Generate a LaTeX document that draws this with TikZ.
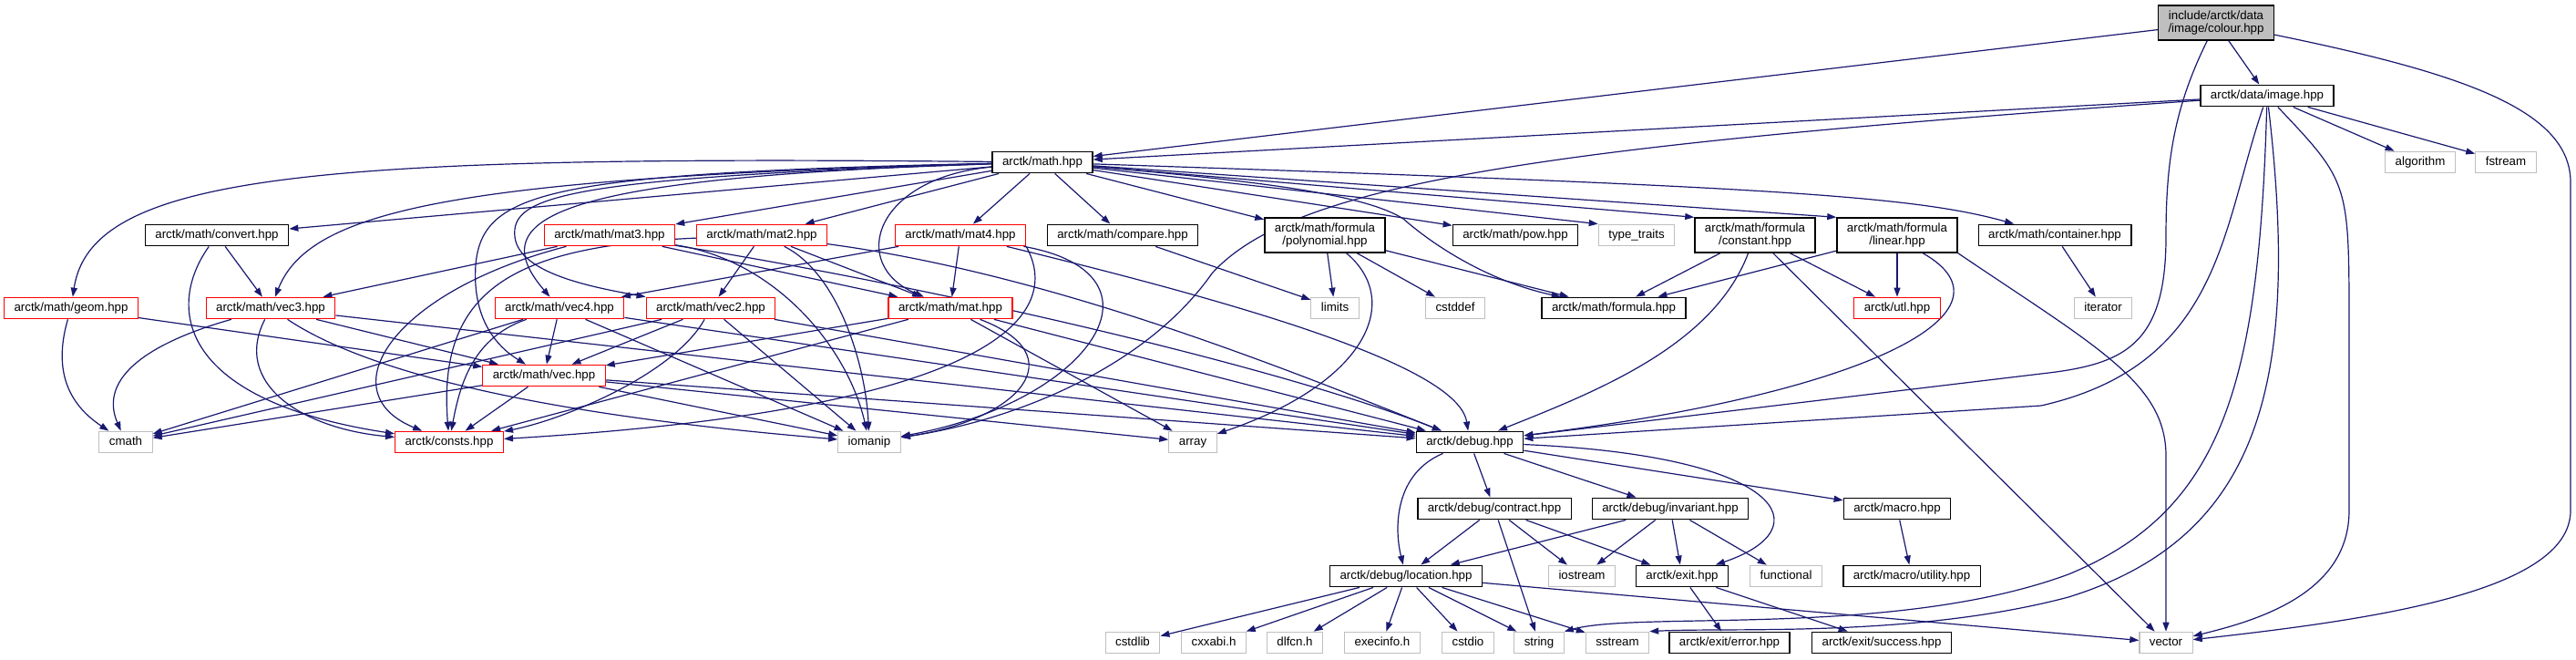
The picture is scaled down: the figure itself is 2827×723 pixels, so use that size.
\documentclass[tikz,border=0pt]{standalone}
\usepackage{fontspec}
\setmainfont{Liberation Sans}
\usetikzlibrary{arrows.meta}
\definecolor{incblue}{HTML}{191970}
\definecolor{sysgrey}{HTML}{BFBFBF}
\pgfdeclarelayer{bg}
\pgfsetlayers{bg,main}

\begin{document}
\begin{tikzpicture}[x=1pt,y=-1pt,
    every node/.style={draw=black,line width=1.4pt,fill=white,inner xsep=11pt,
      inner ysep=0pt,minimum height=23.5pt,text height=10pt,text depth=3pt,
      font=\fontsize{13.3}{13.3}\selectfont},
    trunc/.style={draw=red,line width=1.2pt},
    sys/.style={draw=sysgrey,line width=1.2pt},
    twoline/.style={align=center,text height=,text depth=,minimum height=38pt},
    root/.style={twoline,fill=sysgrey},
    inc/.style={draw=incblue,line width=1.2pt,-{Triangle[length=10pt,width=7pt]}}]
  \useasboundingbox (0,0) rectangle (2827,723);

  \node[root] (colour) at (2432,25) {include/arctk/data\\/image/colour.hpp};
  \node (image) at (2488,105) {arctk/data/image.hpp};
  \node (math) at (1144,178) {arctk/math.hpp};
  \node[sys] (algorithm) at (2656,178) {algorithm};
  \node[sys] (fstream) at (2750,178) {fstream};

  \node (convert) at (238,258) {arctk/math/convert.hpp};
  \node[trunc] (mat3) at (669,258) {arctk/math/mat3.hpp};
  \node[trunc] (mat2) at (836,258) {arctk/math/mat2.hpp};
  \node[trunc] (mat4) at (1054,258) {arctk/math/mat4.hpp};
  \node (compare) at (1232,258) {arctk/math/compare.hpp};
  \node[twoline] (polynomial) at (1454,258) {arctk/math/formula\\/polynomial.hpp};
  \node (pow) at (1663,258) {arctk/math/pow.hpp};
  \node[sys] (typetraits) at (1796,258) {type\_traits};
  \node[twoline] (constant) at (1926,258) {arctk/math/formula\\/constant.hpp};
  \node[twoline] (linear) at (2082,258) {arctk/math/formula\\/linear.hpp};
  \node (container) at (2255,258) {arctk/math/container.hpp};

  \node[trunc] (geom) at (78,338) {arctk/math/geom.hpp};
  \node[trunc] (vec3) at (297,338) {arctk/math/vec3.hpp};
  \node[trunc] (vec4) at (614,338) {arctk/math/vec4.hpp};
  \node[trunc] (vec2) at (780,338) {arctk/math/vec2.hpp};
  \node[trunc] (mat) at (1043,338) {arctk/math/mat.hpp};
  \node[sys] (limits) at (1465,338) {limits};
  \node[sys] (cstddef) at (1597,338) {cstddef};
  \node (formula) at (1771,338) {arctk/math/formula.hpp};
  \node[trunc] (utl) at (2082,338) {arctk/utl.hpp};
  \node[sys] (iterator) at (2308,338) {iterator};

  \node[trunc] (vec) at (597,412) {arctk/math/vec.hpp};

  \node[sys] (cmath) at (138,485) {cmath};
  \node[trunc] (consts) at (493,485) {arctk/consts.hpp};
  \node[sys] (iomanip) at (954,485) {iomanip};
  \node[sys] (array) at (1309,485) {array};
  \node (debug) at (1613,485) {arctk/debug.hpp};

  \node (contract) at (1640,558) {arctk/debug/contract.hpp};
  \node (invariant) at (1833,558) {arctk/debug/invariant.hpp};
  \node (macro) at (2082,558) {arctk/macro.hpp};

  \node (location) at (1543,632) {arctk/debug/location.hpp};
  \node[sys] (iostream) at (1736,632) {iostream};
  \node (exit) at (1846,632) {arctk/exit.hpp};
  \node[sys] (functional) at (1960,632) {functional};
  \node (utility) at (2098,632) {arctk/macro/utility.hpp};

  \node[sys] (cstdlib) at (1243,705) {cstdlib};
  \node[sys] (cxxabi) at (1332,705) {cxxabi.h};
  \node[sys] (dlfcn) at (1421,705) {dlfcn.h};
  \node[sys] (execinfo) at (1517,705) {execinfo.h};
  \node[sys] (cstdio) at (1611,705) {cstdio};
  \node[sys] (string) at (1689,705) {string};
  \node[sys] (sstream) at (1775,705) {sstream};
  \node (error) at (1898,705) {arctk/exit/error.hpp};
  \node (success) at (2065,705) {arctk/exit/success.hpp};
  \node[sys] (vector) at (2377,705) {vector};

  \begin{pgfonlayer}{bg}
  \fill[white] (0,0) rectangle (2827,723);

  \draw[inc] (colour)--(math); \draw[inc] (colour)--(image);
  \draw[inc] (colour) .. controls (2385,120) and (2377,180) .. (2377,260)
    .. controls (2377,380) and (2330,400) .. (2240,410) -- (debug);
  \draw[inc] (colour) .. controls (2700,80) and (2821,120) .. (2821,200) -- (2821,560)
    .. controls (2821,650) and (2600,680) .. (vector);

  \draw[inc] (image)--(math); \draw[inc] (image)--(algorithm);
  \draw[inc] (image)--(fstream);
  \draw[inc] (image) .. controls (1700,160) and (1420,200) .. (1330,300)
    .. controls (1260,400) and (1120,460) .. (iomanip);
  \draw[inc] (image) .. controls (2438,250) and (2438,400) .. (2240,445) -- (debug);
  \draw[inc] (image) .. controls (2479,420) and (2440,560) .. (2270,630)
    .. controls (2080,700) and (1800,670) .. (string.north east);
  \draw[inc] (image) .. controls (2525,420) and (2480,590) .. (2270,655)
    .. controls (2100,700) and (1900,688) .. (sstream.north east);
  \draw[inc] (image) .. controls (2578,200) .. (2578,360) -- (2578,560)
    .. controls (2578,650) and (2480,680) .. (vector);

  \draw[inc] (math)--(convert); \draw[inc] (math)--(mat3);
  \draw[inc] (math)--(mat2); \draw[inc] (math)--(mat4);
  \draw[inc] (math)--(compare); \draw[inc] (math)--(polynomial);
  \draw[inc] (math)--(pow); \draw[inc] (math)--(typetraits.north west);
  \draw[inc] (math)--(constant.north west); \draw[inc] (math)--(linear.north west);
  \draw[inc] (math) .. controls (1950,205) and (2100,215) .. (container);
  \draw[inc] (math) .. controls (350,170) and (100,190) .. (geom);
  \draw[inc] (math) .. controls (500,195) and (340,230) .. (vec3);
  \draw[inc] (math) .. controls (600,195) and (530,240) .. (vec4);
  \draw[inc] (math) .. controls (620,195) and (560,215) .. (565,260)
    .. controls (570,300) and (650,315) .. (vec2.north west);
  \draw[inc] (math) .. controls (600,190) and (530,210) .. (522,290)
    .. controls (518,350) and (545,380) .. (vec);
  \draw[inc] (math) .. controls (960,195) and (930,290) .. (mat);
  \draw[inc] (math) .. controls (1400,200) and (1500,215) .. (1540,240)
    .. controls (1580,275) and (1640,310) .. (formula);

  \draw[inc] (convert)--(vec3);
  \draw[inc] (convert) .. controls (180,340) and (200,440) .. (consts);
  \draw[inc] (geom) .. controls (60,400) and (70,440) .. (cmath);
  \draw[inc] (geom)--(vec);

  \draw[inc] (mat4)--(vec4); \draw[inc] (mat4)--(mat);
  \draw[inc] (mat4.south east) .. controls (1170,350) and (1080,450) .. (consts);
  \draw[inc] (mat4) .. controls (1290,300) and (1200,440) .. (iomanip);
  \draw[inc] (mat4) .. controls (1350,330) and (1600,400) .. (debug);
  \draw[inc] (mat3)--(vec3); \draw[inc] (mat3)--(mat);
  \draw[inc] (mat3) .. controls (430,320) and (360,430) .. (consts);
  \draw[inc] (mat3) .. controls (850,285) and (930,380) .. (iomanip);
  \draw[inc] (mat3) .. controls (1000,310) and (1400,400) .. (debug);
  \draw[inc] (mat2)--(vec2); \draw[inc] (mat2)--(mat);
  \draw[inc] (mat2) .. controls (560,270) and (480,320) .. (consts);
  \draw[inc] (mat2) .. controls (920,300) and (950,400) .. (iomanip);
  \draw[inc] (mat2) .. controls (1150,300) and (1400,400) .. (debug);

  \draw[inc] (vec3)--(vec); \draw[inc] (vec3)--(debug);
  \draw[inc] (vec3) .. controls (150,380) and (110,420) .. (cmath);
  \draw[inc] (vec3) .. controls (255,420) and (330,470) .. (consts);
  \draw[inc] (vec3) .. controls (450,440) and (780,470) .. (iomanip);
  \draw[inc] (vec4)--(vec); \draw[inc] (vec4)--(cmath);
  \draw[inc] (vec4)--(iomanip); \draw[inc] (vec4)--(debug);
  \draw[inc] (vec4) .. controls (520,370) and (505,420) .. (consts);
  \draw[inc] (vec2)--(vec); \draw[inc] (vec2)--(cmath);
  \draw[inc] (vec2)--(iomanip); \draw[inc] (vec2)--(debug);
  \draw[inc] (vec2) .. controls (740,410) and (620,460) .. (consts);
  \draw[inc] (mat)--(vec); \draw[inc] (mat)--(consts);
  \draw[inc] (mat)--(array); \draw[inc] (mat)--(debug);
  \draw[inc] (mat) .. controls (1180,390) and (1120,460) .. (iomanip);
  \draw[inc] (vec)--(cmath); \draw[inc] (vec)--(consts);
  \draw[inc] (vec)--(iomanip); \draw[inc] (vec)--(array);
  \draw[inc] (vec)--(debug);

  \draw[inc] (compare)--(limits);
  \draw[inc] (polynomial)--(limits); \draw[inc] (polynomial)--(cstddef);
  \draw[inc] (polynomial)--(formula);
  \draw[inc] (polynomial) .. controls (1540,330) and (1500,420) .. (array);
  \draw[inc] (constant)--(formula); \draw[inc] (constant)--(utl);
  \draw[inc] (constant)--(vector);
  \draw[inc] (constant) .. controls (1880,380) and (1750,430) .. (debug);
  \draw[inc] (linear)--(formula); \draw[inc] (linear)--(utl);
  \draw[inc] (linear.-35) .. controls (2220,340) and (2060,430) .. (debug);
  \draw[inc] (linear.south east) .. controls (2300,380) and (2377,420) .. (2377,500) -- (vector);
  \draw[inc] (container)--(iterator);

  \draw[inc] (debug)--(contract); \draw[inc] (debug)--(invariant);
  \draw[inc] (debug)--(macro);
  \draw[inc] (debug) .. controls (1530,520) and (1530,580) .. (location);
  \draw[inc] (debug) .. controls (1960,500) and (2000,580) .. (exit);
  \draw[inc] (contract)--(location); \draw[inc] (contract)--(string);
  \draw[inc] (contract)--(iostream); \draw[inc] (contract)--(exit);
  \draw[inc] (invariant)--(location); \draw[inc] (invariant)--(iostream);
  \draw[inc] (invariant)--(exit); \draw[inc] (invariant)--(functional);
  \draw[inc] (macro)--(utility);
  \draw[inc] (location)--(cstdlib); \draw[inc] (location)--(cxxabi);
  \draw[inc] (location)--(dlfcn); \draw[inc] (location)--(execinfo);
  \draw[inc] (location)--(cstdio); \draw[inc] (location)--(string);
  \draw[inc] (location)--(sstream); \draw[inc] (location)--(vector);
  \draw[inc] (exit)--(error); \draw[inc] (exit)--(success);
  \end{pgfonlayer}
\end{tikzpicture}
\end{document}
